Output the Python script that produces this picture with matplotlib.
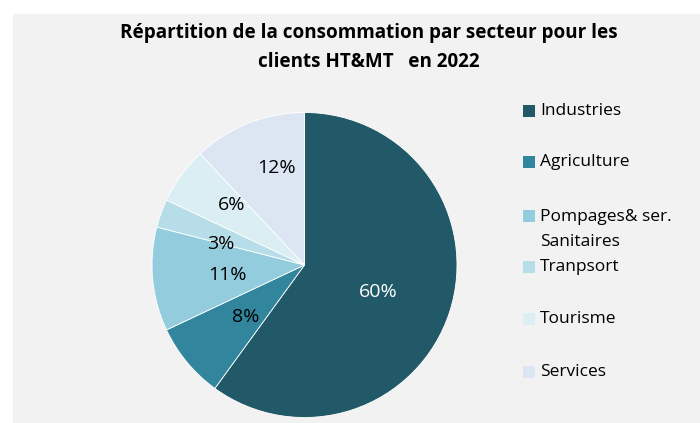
import numpy as np
import matplotlib
matplotlib.use("Agg")
import matplotlib.pyplot as plt
from matplotlib.patches import Rectangle

plt.rcParams['font.family'] = ['Open Sans', 'DejaVu Sans']

secteurs = ["Industries", "Agriculture", "Pompages& ser.\nSanitaires",
            "Tranpsort", "Tourisme", "Services"]
parts = [60, 8, 11, 3, 6, 12]
couleurs = ["#215968", "#31859C", "#93CDDD", "#B7DEE8", "#DAEEF3", "#DCE6F2"]

# percentage label placement: fraction of radius, and angular shift from mid-wedge (deg)
pos_label = [0.515, 0.513, 0.507, 0.566, 0.62, 0.66]
decal_angle = [-2.1, 1.8, 2.0, 5.7, -3.3, -5.7]
# legend rows (pixels from top)
leg_y = [111, 162, 216, 267, 319, 372]

W, H = 700, 423
fig = plt.figure(figsize=(W / 100, H / 100), dpi=100)
fig.patch.set_facecolor("white")
fig.patches.append(Rectangle((13 / W, 0), 1, 1 - 14 / H, transform=fig.transFigure,
                             facecolor="#F2F2F2", edgecolor="none", zorder=-5))

cx, cy, r = 304.5, 265, 152.5
ax = fig.add_axes([(cx - r) / W, (H - cy - r) / H, 2 * r / W, 2 * r / H])
ax.set_facecolor("none")
wedges, _ = ax.pie(parts, colors=couleurs, startangle=90, counterclock=False,
                   radius=1, wedgeprops=dict(edgecolor="white", linewidth=0.6))
ax.set_xlim(-1, 1)
ax.set_ylim(-1, 1)
ax.axis("off")

for i, w in enumerate(wedges):
    a = np.deg2rad((w.theta1 + w.theta2) / 2 + decal_angle[i])
    d = pos_label[i]
    ax.text(d * np.cos(a), d * np.sin(a), f"{parts[i]}%", ha="center", va="center",
            fontsize=14, color="white" if i == 0 else "black")

fig.text(369 / W, 1 - 47.5 / H,
         "Répartition de la consommation par secteur pour les\nclients HT&MT   en 2022",
         ha="center", va="center", fontsize=13.6, fontweight="bold", linespacing=1.62)

for i, nom in enumerate(secteurs):
    y = leg_y[i]
    fig.patches.append(Rectangle((523 / W, 1 - (y + 6) / H), 12 / W, 12 / H,
                                 transform=fig.transFigure, facecolor=couleurs[i],
                                 edgecolor="none"))
    if "\n" in nom:
        fig.text(540 / W, 1 - (y - 7) / H, nom, ha="left", va="top",
                 fontsize=12.5, linespacing=1.73)
    else:
        fig.text(540 / W, 1 - y / H, nom, ha="left", va="center", fontsize=12.5)

fig.savefig("out.png", dpi=100, facecolor=fig.get_facecolor())
